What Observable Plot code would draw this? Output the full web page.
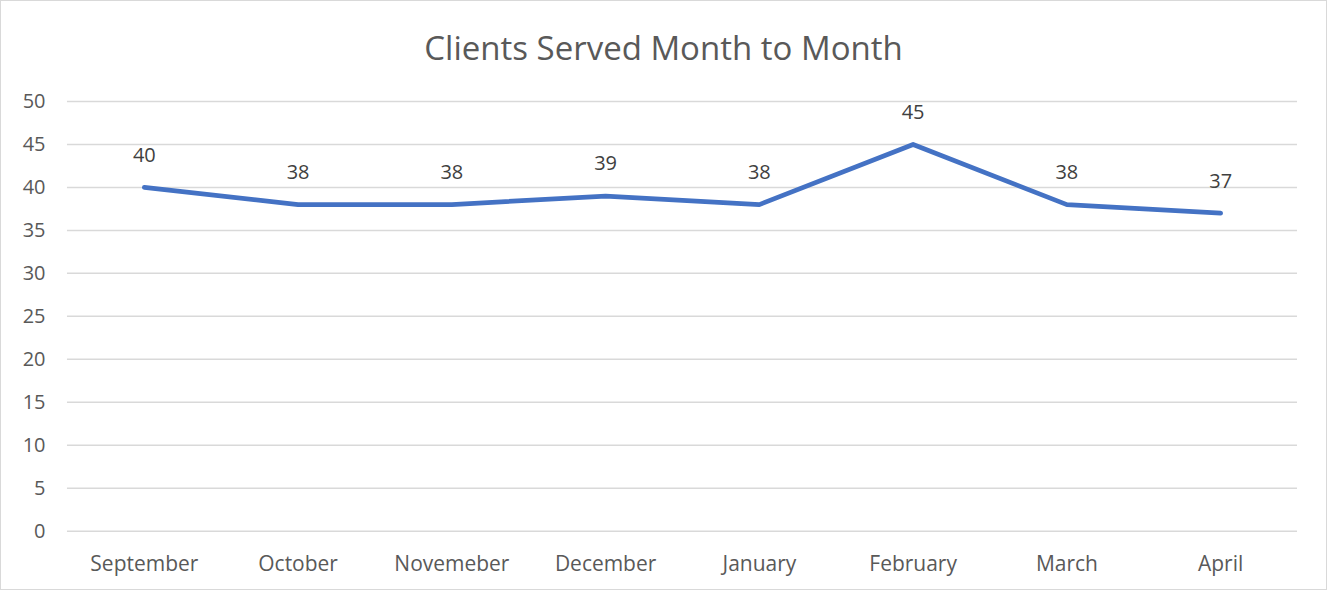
<!DOCTYPE html>
<html>
<head>
<meta charset="utf-8">
<script src="https://cdn.jsdelivr.net/npm/d3@7"></script>
<script src="https://cdn.jsdelivr.net/npm/@observablehq/plot@0.6"></script>
<style>
  html, body { margin: 0; padding: 0; background: #fff; }
  #frame { position: relative; width: 1327px; height: 590px; box-sizing: border-box; border: 1px solid #d9d9d9; overflow: hidden; font-family: "Open Sans", Lato, sans-serif; }
  #title { position: absolute; left: 0; top: 0; width: 100%; height: 80px; text-align: center; font-size: 33px; line-height: 93px; color: #595959; }
  #chart { position: absolute; left: -1px; top: 79px; }
</style>
</head>
<body>
<div id="frame">
  <div id="title">Clients Served Month to Month</div>
  <div id="chart"></div>
</div>
<script>
const months = ["September", "October", "Novemeber", "December", "January", "February", "March", "April"];
const clients = [40, 38, 38, 39, 38, 45, 38, 37];
const yTicks = [0, 5, 10, 15, 20, 25, 30, 35, 40, 45, 50];

const data = months.map((m, i) => ({month: m, value: clients[i]}));

const chart = Plot.plot({
  width: 1327,
  height: 510,
  marginTop: 21,
  marginBottom: 59,
  marginLeft: 67,
  marginRight: 29,
  style: {fontFamily: "'Open Sans', Lato, sans-serif", fontSize: "20px", color: "#595959", background: "transparent"},
  x: {type: "point", domain: months, padding: 0.5, round: false, label: null},
  y: {domain: [0, 50], label: null},
  marks: [
    Plot.gridY(yTicks, {stroke: "#d9d9d9", strokeOpacity: 1, strokeWidth: 1.5}),
    Plot.axisY(yTicks, {tickSize: 0, tickPadding: 22, label: null, fill: "#595959", fontSize: 20}),
    Plot.axisX({tickSize: 0, tickPadding: 25, label: null, fill: "#595959", fontSize: 21}),
    Plot.line(data, {x: "month", y: "value", stroke: "#4472C4", strokeWidth: 4.75, strokeLinejoin: "round", strokeLinecap: "round"}),
    Plot.text(data, {x: "month", y: "value", text: d => String(d.value), dy: -32, fill: "#404040", fontSize: 20})
  ]
});
document.getElementById("chart").appendChild(chart);
</script>
</body>
</html>
